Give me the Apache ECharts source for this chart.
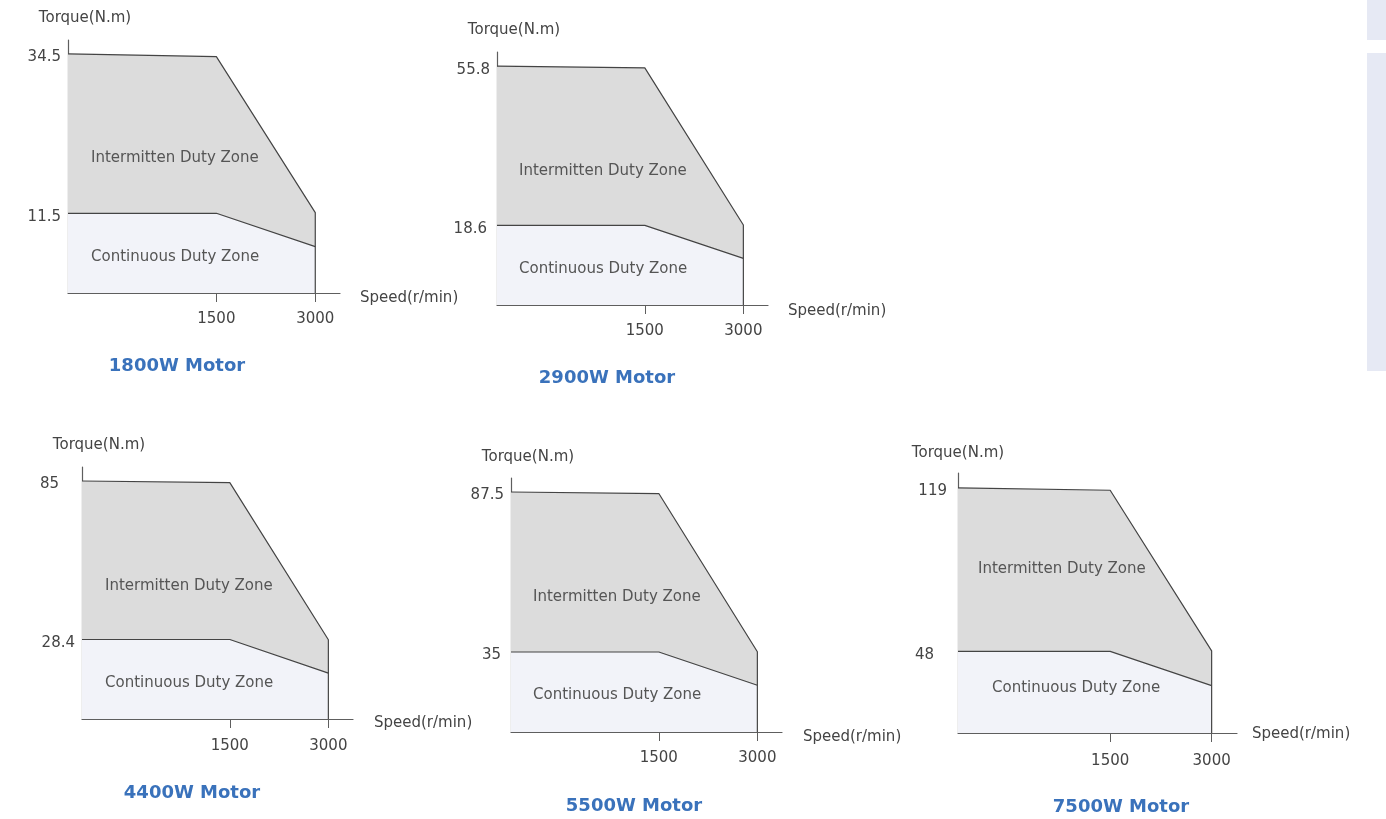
<!DOCTYPE html>
<html><head><meta charset="utf-8">
<script src="https://cdn.jsdelivr.net/npm/echarts@6/dist/echarts.min.js"></script>
<style>html,body{margin:0;padding:0;background:#fff}#c{width:1386px;height:819px}</style>
</head><body><div id="c"></div>
<script>
// ---- data ----
const motors = ['1800W Motor', '2900W Motor', '4400W Motor', '5500W Motor', '7500W Motor'];
const speedKnots = [1500, 3000];                       // rated / max speed (r/min)
const torqueTickLabels = [[11.5, 34.5], [18.6, 55.8], [28.4, 85], [35, 87.5], [48, 119]];
// torque at [start of axis, 1500, 3000]
const peakTorque = [[34.5, 34.1, 11.6], [55.8, 55.4, 18.7], [85, 84.4, 28.3], [87.5, 87.0, 35.1], [119, 118.0, 48.2]];
const contTorque = [[11.5, 11.5, 6.7], [18.6, 18.6, 10.9], [28.4, 28.4, 16.4], [35, 35, 24.1], [48, 48, 33.1]];
const zoneNames = ['Intermitten Duty Zone', 'Continuous Duty Zone'];

// ---- layout ----
const FONT = 'DejaVu Sans';
const SPEED_MIN = -750, SPEED_MAX = 3375;   // schematic speed axis range (torque axis sits at its start)
const layout = [
  {grid: {left: 68, top: 40, width: 272, height: 253}, yMin: 0, yMax: 36.5, yExtra: {}, yNamePad: 34, yNameGap: 14, xNameGap: 20, xNameDy: 10, xLabelMargin: 19, title: [177, 357], zoneI: [91, 158], zoneC: [91, 257]},
  {grid: {left: 497, top: 52, width: 271, height: 253}, yMin: 0, yMax: 59.1, yExtra: {18.6: 3}, yNamePad: 34, yNameGap: 14, xNameGap: 20, xNameDy: 12, xLabelMargin: 19, title: [607, 369], zoneI: [519, 171], zoneC: [519, 269]},
  {grid: {left: 82, top: 467, width: 271, height: 252}, yMin: 0, yMax: 90, yExtra: {85: 16}, yNamePad: 34, yNameGap: 14, xNameGap: 21, xNameDy: 8, xLabelMargin: 20, title: [192, 784], zoneI: [105, 586], zoneC: [105, 683]},
  {grid: {left: 511, top: 478, width: 271, height: 254}, yMin: 8.75, yMax: 92.1, yExtra: {35: 3}, yNamePad: 34, yNameGap: 13, xNameGap: 21, xNameDy: 10, xLabelMargin: 19, title: [634, 797], zoneI: [533, 597], zoneC: [533, 695]},
  {grid: {left: 958, top: 473, width: 279, height: 260}, yMin: 12.5, yMax: 125.5, yExtra: {119: 4, 48: 17}, yNamePad: 0, yNameGap: 12, xNameGap: 15, xNameDy: 2, xLabelMargin: 21, title: [1121, 798], zoneI: [978, 569], zoneC: [992, 688]}
];

const AXIS_COLOR = '#5e5e5e', OUTLINE = '#444444', LABEL = '#444', ZONE_TXT = '#555';
const GRAY_FILL = '#dcdcdc', LIGHT_FILL = '#f2f3f9';

const grids = [], xAxes = [], yAxes = [], series = [], titles = [], graphics = [];

motors.forEach((m, i) => {
  const L = layout[i];
  grids.push(Object.assign({containLabel: false}, L.grid));
  xAxes.push({
    type: 'value', gridIndex: i, min: SPEED_MIN, max: SPEED_MAX,
    axisLine: {show: true, onZero: false, lineStyle: {color: AXIS_COLOR, width: 1.2}},
    axisTick: {show: true, customValues: speedKnots, length: 9, lineStyle: {color: AXIS_COLOR, width: 1}},
    axisLabel: {show: true, customValues: speedKnots, margin: L.xLabelMargin, fontSize: 15, color: LABEL, fontFamily: FONT,
      formatter: v => String(v)},
    splitLine: {show: false},
    name: '{s|Speed(r/min)}', nameLocation: 'end', nameGap: L.xNameGap,
    nameTextStyle: {fontSize: 15, color: LABEL, fontFamily: FONT,
      rich: {s: {fontSize: 15, color: LABEL, fontFamily: FONT, padding: [L.xNameDy, 0, 0, 0]}}}
  });
  const rich = {n: {fontSize: 15, color: LABEL, fontFamily: FONT, padding: [7, 0, 0, 0]}};
  Object.keys(L.yExtra).forEach(k => {
    rich['e' + L.yExtra[k]] = {fontSize: 15, color: LABEL, fontFamily: FONT, padding: [7, L.yExtra[k], 0, 0]};
  });
  yAxes.push({
    type: 'value', gridIndex: i, min: L.yMin, max: L.yMax,
    axisLine: {show: true, onZero: false, lineStyle: {color: AXIS_COLOR, width: 1.2}},
    axisTick: {show: false},
    axisLabel: {
      show: true, customValues: torqueTickLabels[i], margin: 7, fontSize: 15, color: LABEL, fontFamily: FONT,
      formatter: v => { const e = L.yExtra[v]; return e ? '{e' + e + '|' + v + '}' : '{n|' + v + '}'; },
      rich: rich
    },
    splitLine: {show: false},
    name: 'Torque(N.m)', nameLocation: 'end', nameGap: L.yNameGap,
    nameTextStyle: {fontSize: 15, color: LABEL, fontFamily: FONT, align: 'center', padding: [0, 0, 0, L.yNamePad]}
  });

  const xs = [SPEED_MIN, speedKnots[0], speedKnots[1]];
  const peakPts = xs.map((x, k) => [x, peakTorque[i][k]]);
  const contPts = xs.map((x, k) => [x, contTorque[i][k]]);
  const base = {type: 'line', xAxisIndex: i, yAxisIndex: i, symbol: 'none', silent: true, animation: false};
  series.push(Object.assign({}, base, {name: zoneNames[0], data: peakPts, z: 1,
    lineStyle: {width: 0, opacity: 0}, areaStyle: {color: GRAY_FILL, opacity: 1, origin: 'start'}}));
  series.push(Object.assign({}, base, {name: zoneNames[1], data: contPts, z: 2,
    lineStyle: {width: 0, opacity: 0}, areaStyle: {color: LIGHT_FILL, opacity: 1, origin: 'start'}}));
  series.push(Object.assign({}, base, {data: peakPts.concat([[speedKnots[1], L.yMin]]), z: 3,
    lineStyle: {color: OUTLINE, width: 1.2}}));
  series.push(Object.assign({}, base, {data: contPts, z: 3,
    lineStyle: {color: OUTLINE, width: 1.2}}));

  titles.push({text: m, left: L.title[0], top: L.title[1], textAlign: 'center', padding: 0,
    textStyle: {fontFamily: FONT, fontSize: 18, fontWeight: 'bold', color: '#3a72bb'}});
  graphics.push({type: 'text', x: L.zoneI[0], y: L.zoneI[1], silent: true, z: 100,
    style: {text: zoneNames[0], fontSize: 15, fontFamily: FONT, fill: ZONE_TXT, verticalAlign: 'middle'}});
  graphics.push({type: 'text', x: L.zoneC[0], y: L.zoneC[1], silent: true, z: 100,
    style: {text: zoneNames[1], fontSize: 15, fontFamily: FONT, fill: ZONE_TXT, verticalAlign: 'middle'}});
});

graphics.push({type: 'rect', shape: {x: 1367, y: 0, width: 19, height: 40}, style: {fill: '#e6e9f4'}, silent: true});
graphics.push({type: 'rect', shape: {x: 1367, y: 53, width: 19, height: 318}, style: {fill: '#e6e9f4'}, silent: true});

const chart = echarts.init(document.getElementById('c'), null, {renderer: 'canvas'});
chart.setOption({
  backgroundColor: '#ffffff',
  animation: false,
  textStyle: {fontFamily: FONT},
  title: titles,
  grid: grids,
  xAxis: xAxes,
  yAxis: yAxes,
  series: series,
  graphic: {elements: graphics}
});
</script></body></html>
